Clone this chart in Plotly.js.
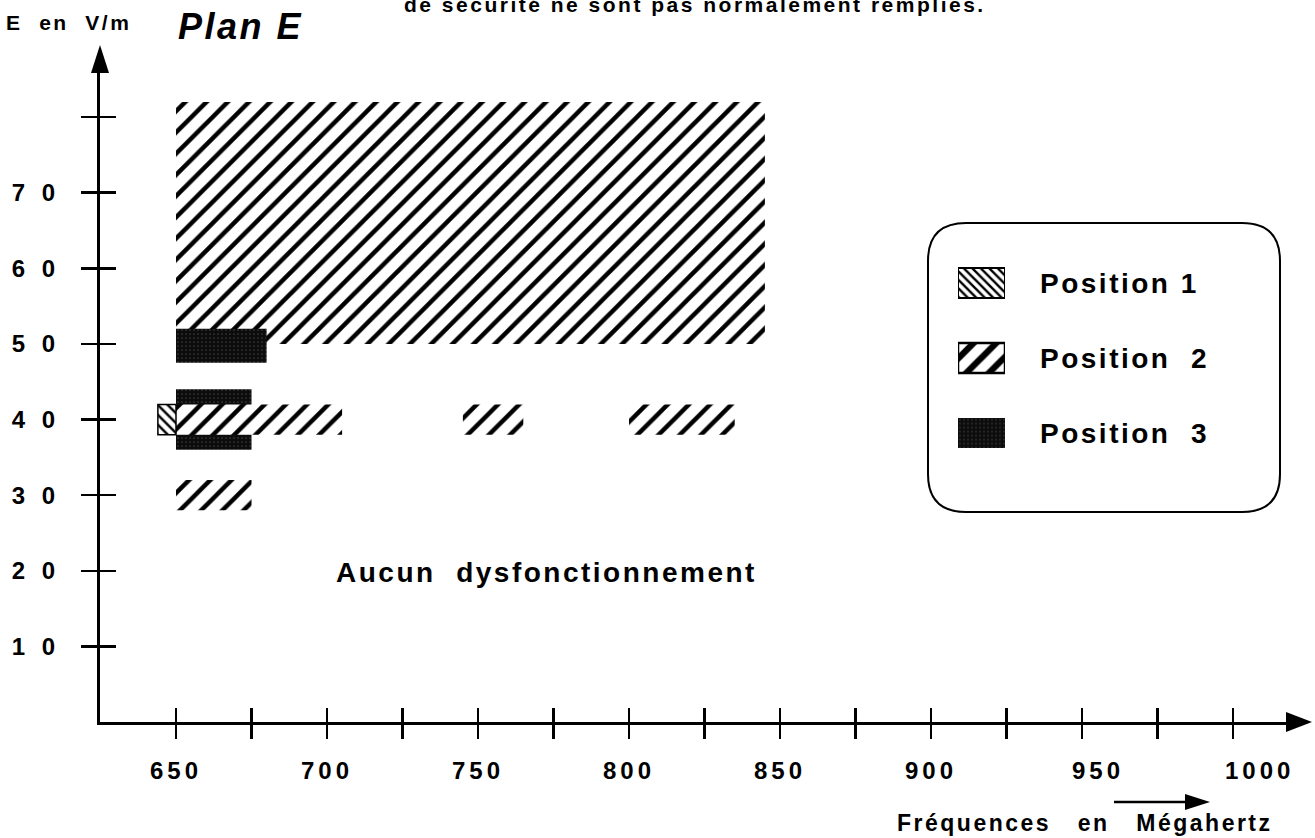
<!DOCTYPE html>
<html><head><meta charset="utf-8">
<script src="https://cdn.plot.ly/plotly-3.0.1.min.js"></script>
<style>
html,body{margin:0;padding:0;background:#fff;}
#chart{width:1315px;height:838px;}
.xtick text{letter-spacing:4px;}
.ytick text{letter-spacing:5px;}
.annotation-text{letter-spacing:2.5px;}
</style></head><body><div id="chart"></div>
<script>
// ---------- DATA ----------
const NB='\u00A0';
const seriesNames = ['Position' + NB + '1', 'Position' + NB + NB + '2', 'Position' + NB + NB + '3'];
// Position 1: frequency start/end (MHz), field low/high (V/m)
const pos1Start = [644];
const pos1End   = [650];
const pos1Low   = [38];
const pos1High  = [42];
// Position 2 (first entry = large zone)
const pos2Start = [650, 650, 745, 800, 650];
const pos2End   = [845, 705, 765, 835, 675];
const pos2Low   = [50, 38, 38, 38, 28];
const pos2High  = [82, 42, 42, 42, 32];
// Position 3
const pos3Start = [650, 650];
const pos3End   = [680, 675];
const pos3Low   = [47.5, 36];
const pos3High  = [52, 44];
// Axis ticks
const xTickVals = [650,675,700,725,750,775,800,825,850,875,900,925,950,975,1000];
const xTickText = ['650','','700','','750','','800','','850','','900','',NB+NB+NB+'950','',NB+NB+NB+NB+NB+'1000'];
const yTickVals = [10,20,30,40,50,60,70,80];
const yTickText = ['1 0','2 0','3 0','4 0','5 0','6 0','7 0',''];

// ---------- GEOMETRY ----------
const W=1315, H=838, mL=100, mR=15, mT=60, mB=116;
const pw=W-mL-mR, ph=H-mT-mB;
const xPx=3.02, yPx=7.5625;
const x0=650-(176-mL)/xPx, x1=x0+pw/xPx;
const y0=0, y1=ph/yPx;
const PX=p=>(p-mL)/pw, PY=p=>(H-mB-p)/ph;
const P=(x,y)=>PX(x)+','+PY(y);

const FONT='Liberation Sans, Arial, sans-serif';

const hatch2={shape:'/', fgcolor:'#000', bgcolor:'#fff', size:15, solidity:0.3};
const hatch1={shape:'\\', fgcolor:'#000', bgcolor:'#fff', size:7, solidity:0.35};
const dots3={shape:'.', fgcolor:'#3c3c3c', bgcolor:'#0c0c0c', size:4, solidity:0.15};

function bars(s,e,lo,hi,marker,extra){
  return Object.assign({
    type:'bar', orientation:'h',
    base:s, x:s.map((v,i)=>e[i]-v),
    y:lo.map((v,i)=>(v+hi[i])/2),
    width:lo.map((v,i)=>hi[i]-v),
    marker:marker, showlegend:false, hoverinfo:'skip'
  }, extra||{});
}
const sl=(a,i,j)=>a.slice(i,j);

const traces=[
  bars(sl(pos2Start,0,1),sl(pos2End,0,1),sl(pos2Low,0,1),sl(pos2High,0,1),
       {color:'#fff',pattern:hatch2,line:{width:0}},{name:seriesNames[1]}),
  bars(pos3Start,pos3End,pos3Low,pos3High,
       {color:'#0c0c0c',pattern:dots3,line:{width:0}},{name:seriesNames[2]}),
  bars(sl(pos2Start,1),sl(pos2End,1),sl(pos2Low,1),sl(pos2High,1),
       {color:'#fff',pattern:hatch2,line:{width:0}},{name:seriesNames[1]}),
  bars(pos1Start,pos1End,pos1Low,pos1High,
       {color:'#fff',pattern:hatch1,line:{width:1.5,color:'#000'}},{name:seriesNames[0]}),
  // empty carrier so the inward-tick axes are drawn
  {type:'scatter',x:[],y:[],xaxis:'x2',yaxis:'y2',showlegend:false,hoverinfo:'skip'}
];

// legend swatches (own small subplot)
const swMarkers=[
  {color:'#fff',pattern:{shape:'\\',fgcolor:'#000',bgcolor:'#fff',size:6,solidity:0.4},line:{width:2,color:'#000'}},
  {color:'#fff',pattern:{shape:'/',fgcolor:'#000',bgcolor:'#fff',size:16,solidity:0.4},line:{width:2.5,color:'#000'}},
  {color:'#0c0c0c',pattern:dots3,line:{width:0}}
];
seriesNames.forEach((n,i)=>{
  traces.push({type:'bar',orientation:'h',base:[0],x:[1],y:[2-i],width:[0.4],
    marker:swMarkers[i],xaxis:'x3',yaxis:'y3',showlegend:false,hoverinfo:'skip',name:n});
});

const legTextY=[283,358,433];
const annotations=[
  {text:'de sécurité ne sont pas normalement remplies.',xref:'paper',yref:'paper',
   x:PX(695),y:PY(4),xanchor:'center',yanchor:'middle',showarrow:false,
   font:{family:FONT,size:21,weight:700,color:'#000'}},
  {text:'E'+NB+NB+'en'+NB+NB+'V/m',xref:'paper',yref:'paper',x:PX(4),y:PY(23),xanchor:'left',yanchor:'middle',
   showarrow:false,font:{family:FONT,size:21,weight:700,color:'#000'}},
  {text:'Plan E',xref:'paper',yref:'paper',x:PX(176),y:PY(27),xanchor:'left',yanchor:'middle',
   showarrow:false,font:{family:FONT,size:36,weight:700,style:'italic',color:'#000'}},
  {text:'Aucun'+NB+NB+'dysfonctionnement',xref:'paper',yref:'paper',x:PX(546),y:PY(572),xanchor:'center',yanchor:'middle',
   showarrow:false,font:{family:FONT,size:28,weight:700,color:'#000'}},
  {text:'Fréquences'+NB+NB+NB+'en'+NB+NB+NB+'Mégahertz',xref:'paper',yref:'paper',x:PX(1085),y:PY(823),xanchor:'center',yanchor:'middle',
   showarrow:false,font:{family:FONT,size:23,weight:700,color:'#000'}}
];
seriesNames.forEach((n,i)=>{
  annotations.push({text:n,xref:'paper',yref:'paper',x:PX(1038),y:PY(legTextY[i]),xanchor:'left',yanchor:'middle',
    showarrow:false,font:{family:FONT,size:28,weight:700,color:'#000'}});
});

const r=38, bx1=928, by1=223, bx2=1280, by2=512;
const shapes=[
  {type:'path',xref:'paper',yref:'paper',line:{width:2,color:'#000'},
   path:'M'+P(bx1+r,by1)+'L'+P(bx2-r,by1)+'Q'+P(bx2,by1)+' '+P(bx2,by1+r)+'L'+P(bx2,by2-r)+
        'Q'+P(bx2,by2)+' '+P(bx2-r,by2)+'L'+P(bx1+r,by2)+'Q'+P(bx1,by2)+' '+P(bx1,by2-r)+
        'L'+P(bx1,by1+r)+'Q'+P(bx1,by1)+' '+P(bx1+r,by1)+'Z'},
  // y-axis arrowhead
  {type:'path',xref:'paper',yref:'paper',fillcolor:'#000',line:{width:0},
   path:'M'+P(100,45)+'L'+P(91,73)+'L'+P(109,73)+'Z'},
  // x-axis arrowhead
  {type:'path',xref:'paper',yref:'paper',fillcolor:'#000',line:{width:0},
   path:'M'+P(1312,722)+'L'+P(1286,712)+'L'+P(1286,732)+'Z'},
  // small arrow near 950
  {type:'line',xref:'paper',yref:'paper',x0:PX(1114),y0:PY(802),x1:PX(1190),y1:PY(802),line:{width:2.5,color:'#000'}},
  {type:'path',xref:'paper',yref:'paper',fillcolor:'#000',line:{width:0},
   path:'M'+P(1210,802)+'L'+P(1185,794)+'L'+P(1185,810)+'Z'}
];

const axBase={showgrid:false,zeroline:false,tickcolor:'#000',tickwidth:2.5,fixedrange:true};
const layout={
  width:W,height:H,margin:{l:mL,r:mR,t:mT,b:mB},
  paper_bgcolor:'#fff',plot_bgcolor:'#fff',barmode:'overlay',showlegend:false,
  xaxis:Object.assign({},axBase,{range:[x0,x1],tickmode:'array',tickvals:xTickVals,ticktext:xTickText,
    ticks:'outside',ticklen:14,showline:true,linecolor:'#000',linewidth:3,ticklabelstandoff:11,
    tickfont:{family:FONT,size:24,weight:700,color:'#000'}}),
  yaxis:Object.assign({},axBase,{range:[y0,y1],tickmode:'array',tickvals:yTickVals,ticktext:yTickText,
    ticks:'outside',ticklen:16,showline:true,linecolor:'#000',linewidth:3,ticklabelstandoff:16,
    tickfont:{family:FONT,size:24,weight:700,color:'#000'}}),
  xaxis2:Object.assign({},axBase,{range:[x0,x1],overlaying:'x',anchor:'y',side:'bottom',tickmode:'array',
    tickvals:xTickVals,ticks:'inside',ticklen:14,showticklabels:false,showline:false}),
  yaxis2:Object.assign({},axBase,{range:[y0,y1],overlaying:'y',anchor:'x',side:'left',tickmode:'array',
    tickvals:yTickVals,ticks:'inside',ticklen:16,showticklabels:false,showline:false}),
  xaxis3:{domain:[PX(958),PX(1005)],range:[0,1],visible:false,anchor:'y3',fixedrange:true},
  yaxis3:{domain:[PY(470.5),PY(245.5)],range:[-0.5,2.5],visible:false,anchor:'x3',fixedrange:true},
  annotations:annotations,shapes:shapes
};
Plotly.newPlot('chart',traces,layout,{staticPlot:true});
</script></body></html>
